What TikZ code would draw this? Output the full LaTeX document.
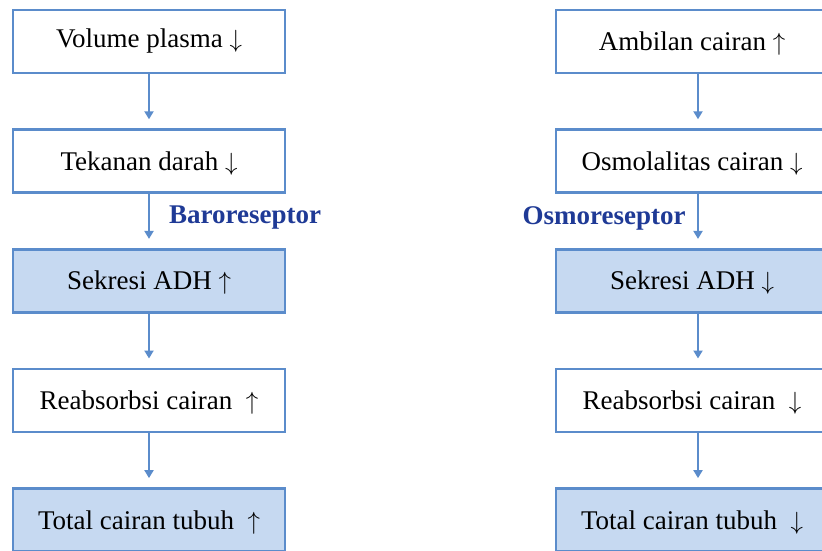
\documentclass[tikz,border=0pt]{standalone}
\usepackage{fontspec}
\setmainfont{Liberation Serif}
\usetikzlibrary{arrows.meta,positioning}
\definecolor{boxline}{HTML}{5B8CCB}
\definecolor{boxfill}{HTML}{C6D9F1}
\definecolor{sensorblue}{HTML}{1F3A96}

\newcommand{\up}{\smash{$\uparrow$}}
\newcommand{\down}{\smash{$\downarrow$}}

\begin{document}
\begin{tikzpicture}[
    x=1pt, y=-1pt,
    font=\fontsize{27}{30}\selectfont,
    node distance=54pt,
    stepnode/.style={draw=boxline, line width=2.6pt, minimum width=272pt,
                     minimum height=63pt, inner sep=0pt},
    plainbox/.style={stepnode, fill=white},
    adhbox/.style={stepnode, fill=boxfill},
    flowarrow/.style={-{Triangle[length=8pt,width=9pt]}, draw=boxline,
                      line width=2.2pt, shorten >=9pt},
    sensor/.style={font=\fontsize{27}{30}\selectfont\bfseries, text=sensorblue},
]
\useasboundingbox (0,0) rectangle (822,550);
\clip (0,0) rectangle (822,550);

\def\lx{149}
\def\rx{692}
\def\ytop{41.5}

% ── Left column: pressure path ──
\node[plainbox] (l1) at (\lx, \ytop) {Volume plasma \down};
\node[plainbox, below=of l1] (l2) {Tekanan darah \down};
\node[adhbox, below=of l2] (l3) {Sekresi ADH \up};
\node[plainbox, below=of l3] (l4) {Reabsorbsi cairan \ \up};
\node[adhbox, below=of l4] (l5) {Total cairan tubuh \ \up};

\foreach \a/\b in {l1/l2, l2/l3, l3/l4, l4/l5} {
    \draw[flowarrow] (\a) -- (\b);
}
\node[sensor] (baro) at (245, 218) {Baroreseptor};

% ── Right column: osmolality path ──
\node[plainbox] (r1) at (\rx, \ytop) {Ambilan cairan \up};
\node[plainbox, below=of r1] (r2) {Osmolalitas cairan \down};
\node[adhbox, below=of r2] (r3) {Sekresi ADH \down};
\node[plainbox, below=of r3] (r4) {Reabsorbsi cairan \ \down};
\node[adhbox, below=of r4] (r5) {Total cairan tubuh \ \down};

\foreach \a/\b in {r1/r2, r2/r3, r3/r4, r4/r5} {
    \draw[flowarrow] ([xshift=6pt]\a.south) -- ([xshift=6pt]\b.north);
}
\node[sensor] (osmo) at (604, 218) {Osmoreseptor};

\end{tikzpicture}
\end{document}
